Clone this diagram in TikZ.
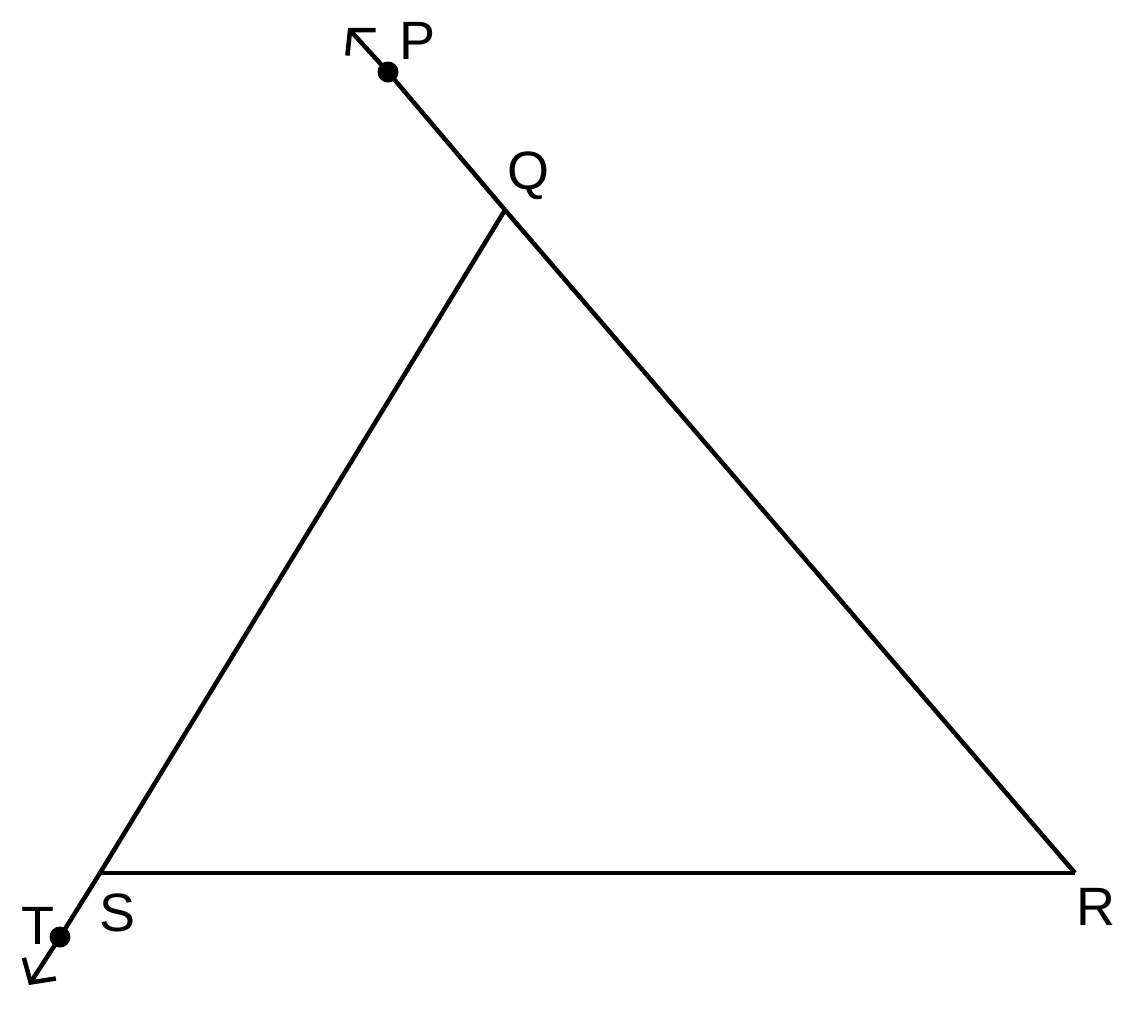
\documentclass[tikz,border=0pt]{standalone}
\usepackage{fontspec}
\setmainfont{Liberation Sans}
\usetikzlibrary{arrows.meta}
\begin{document}
\begin{tikzpicture}[x=1pt,y=-1pt,
  edge/.style={line width=4.5pt},
  ray/.style={line width=4.5pt,-{Straight Barb[length=17pt,width=38pt,line width=4.5pt]}},
  pt/.style={circle,fill=black,inner sep=0pt,minimum size=21pt},
  lbl/.style={font=\fontsize{54}{54}\selectfont,inner sep=0pt}]
\useasboundingbox (0,0) rectangle (1129,1012);
\coordinate (Q) at (505,210);
\coordinate (R) at (1075,873);
\coordinate (S) at (100,873);
\coordinate (Ptip) at (348,28);
\coordinate (Ttip) at (29,985);
\node[pt] (P) at (388,72) {};
\node[pt] (T) at (60,937) {};
\draw[edge] (S) -- (R);
\draw[edge] (Q) -- (R);
\draw[edge] (Q) -- (S);
\draw[ray] (Q) -- (P.center) -- (Ptip);
\draw[ray] (S) -- (T.center) -- (Ttip);
\node[lbl] (lP) at (418,41) {P};
\node[lbl] (lQ) at (528,176) {Q};
\node[lbl] (lR) at (1096,907) {R};
\node[lbl] (lS) at (118,913) {S};
\node[lbl] (lT) at (38,926) {T};
\end{tikzpicture}
\end{document}
